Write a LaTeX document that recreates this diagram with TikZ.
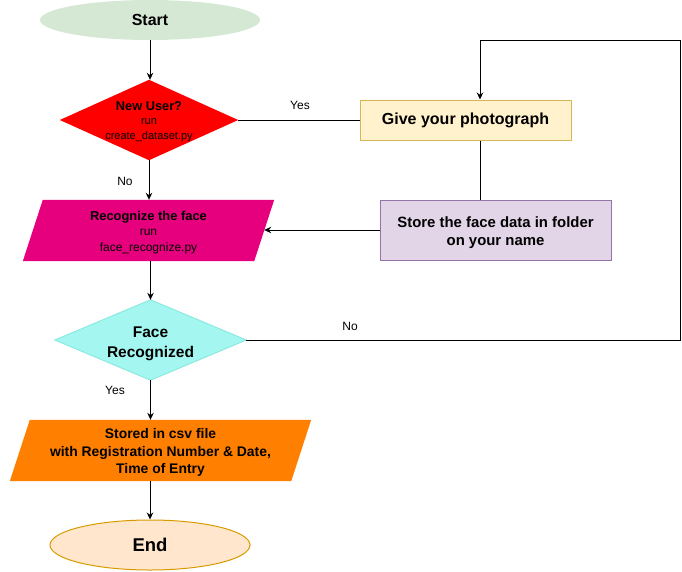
\documentclass[tikz,border=0pt]{standalone}
\usepackage{fontspec}
\setmainfont{Liberation Sans}
\usetikzlibrary{arrows.meta,shapes.geometric,calc,backgrounds}
\definecolor{startfill}{HTML}{D5E8D4}
\definecolor{givefill}{HTML}{FFF2CC}
\definecolor{givedraw}{HTML}{D6B656}
\definecolor{storefill}{HTML}{E1D5E7}
\definecolor{storedraw}{HTML}{9673A6}
\definecolor{recfill}{HTML}{E6007E}
\definecolor{facefill}{HTML}{A3F7F0}
\definecolor{facedraw}{HTML}{8CE9E1}
\definecolor{csvfill}{HTML}{FF8000}
\definecolor{endfill}{HTML}{FFE6CC}
\definecolor{enddraw}{HTML}{D79B00}
% font size / line spacing in pt
\newcommand{\fz}[2]{\fontsize{#1}{#2}\selectfont}
\tikzset{
  x=1pt, y=-1pt,
  every node/.style={inner sep=0pt, align=center},
  box/.style={rectangle, line width=1pt},
  conn/.style={line width=1pt},
  arrow/.style={conn, -{Stealth[length=7pt,width=6.5pt]}},
  lbl/.style={font=\fz{12}{14}},
}
\begin{document}
\begin{tikzpicture}
\useasboundingbox (0,0) rectangle (682,571);

% terminals
\node[ellipse, fill=startfill, minimum width=220pt, minimum height=40pt,
      font=\fz{16}{19}\bfseries] (start) at (150,20) {Start};
\node[ellipse, fill=endfill, draw=enddraw, line width=1pt, minimum width=200pt,
      minimum height=50pt, font=\fz{18.5}{22}\bfseries] (end) at (150,545) {End};

% decisions (frames; the diamonds are filled behind them)
\node[rectangle, minimum width=178pt, minimum height=80pt] (nu) at (149,120) {};
\node[font=\fz{11}{14.5}] (nuText) at (149,121.5)
  {{\fz{12.8}{14.5}\bfseries New User?}\\run\\create\_dataset.py};
\node[rectangle, minimum width=191pt, minimum height=80pt] (face) at (150.5,340) {};
\node[font=\fz{15.5}{20}\bfseries] (faceText) at (150.5,343.5) {Face\\Recognized};

% process boxes
\node[box, fill=givefill, draw=givedraw, minimum width=211pt, minimum height=40pt,
      font=\fz{16}{19}\bfseries] (give) at (465.5,120) {Give your photograph};
\node[box, fill=storefill, draw=storedraw, minimum width=231pt, minimum height=60pt]
  (store) at (495.5,230) {};
\node[font=\fz{14.9}{18}\bfseries] (storeText) at (495.5,233)
  {Store the face data in folder\\on your name};

% input/output frames (parallelograms drawn behind)
\node[rectangle, minimum width=251pt, minimum height=61pt] (rec) at (148.5,230.5) {};
\node[font=\fz{12}{15.5}] (recText) at (148.5,232.5)
  {{\fz{12.9}{15.5}\bfseries Recognize the face}\\run\\face\_recognize.py};
\node[rectangle, minimum width=301pt, minimum height=61pt] (csv) at (160.5,450.5) {};
\node[font=\fz{13.9}{17.5}\bfseries] (csvText) at (160.5,452.5)
  {Stored in csv file\\with Registration Number \& Date,\\Time of Entry};

\begin{scope}[on background layer]
  \fill[red] (nu.north) -- (nu.east) -- (nu.south) -- (nu.west) -- cycle;
  \filldraw[fill=facefill, draw=facedraw, line width=1pt]
    (face.north) -- (face.east) -- (face.south) -- (face.west) -- cycle;
  \fill[recfill] ($(rec.north west)+(20,0)$) -- (rec.north east)
    -- ($(rec.south east)+(-20,0)$) -- (rec.south west) -- cycle;
  \fill[csvfill] ($(csv.north west)+(20,0)$) -- (csv.north east)
    -- ($(csv.south east)+(-20,0)$) -- (csv.south west) -- cycle;
\end{scope}

\coordinate (recR) at ($(rec.east)+(-10,0)$);
\coordinate (giveTop) at ($(give.north)+(14.5,0)$);
\coordinate (giveBot) at ($(give.south)+(14.5,0)$);
\coordinate (loopA) at (680,340);
\coordinate (loopB) at (680,40);
\coordinate (loopC) at (480,40);

% connectors
\draw[arrow] (start.south) -- (start.south |- nu.north);
\draw[conn] (nu.east) -- (give.west);
\node[lbl] (yes1) at (300,105) {Yes};
\draw[arrow] (nu.south) -- (nu.south |- rec.north);
\node[lbl] (no1) at (125,181) {No};
\draw[conn] (giveBot) -- (giveBot |- store.north);
\draw[arrow] (store.west) -- (store.west -| recR);
\draw[arrow] (rec.south -| face.north) -- (face.north);
\draw[arrow] (face.east) -- (loopA) -- (loopB) -- (loopC) -- (giveTop);
\node[lbl] (no2) at (350,326) {No};
\draw[arrow] (face.south) -- (face.south |- csv.north);
\node[lbl] (yes2) at (115,390) {Yes};
\draw[arrow] (csv.south -| end.north) -- (end.north);
\end{tikzpicture}
\end{document}
